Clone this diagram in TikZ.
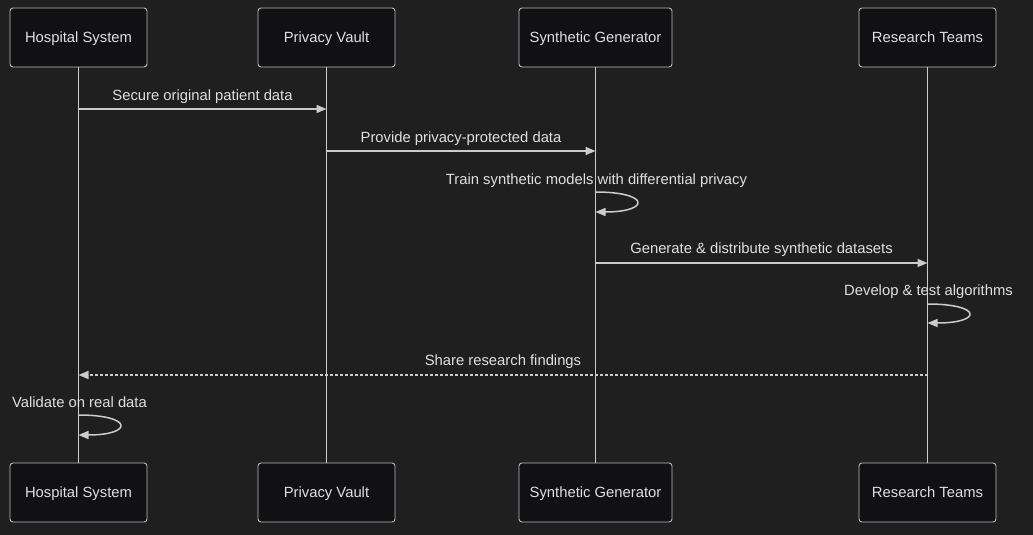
\documentclass[tikz,border=0pt]{standalone}
\usepackage{fontspec}
\setmainfont{Liberation Sans}
\usetikzlibrary{arrows.meta}
\definecolor{bg}{HTML}{1F1F1F}
\definecolor{boxfill}{HTML}{111113}
\definecolor{boxline}{HTML}{BBBBBB}
\definecolor{lineclr}{HTML}{CCCCCC}
\definecolor{txt}{HTML}{E0E0E0}
\begin{document}
\begin{tikzpicture}[x=1pt,y=-1pt,
  actor/.style={draw=boxline, line width=0.9pt, fill=boxfill, rounded corners=3pt,
    minimum height=59pt, inner sep=0pt, text=txt, font=\fontsize{14.8}{17}\selectfont,
    text height=11pt, text depth=1pt},
  life/.style={draw=lineclr, line width=1.5pt},
  msg/.style={draw=lineclr, line width=1.5pt, -{Triangle[length=10pt,width=8pt]}},
  reply/.style={msg, dash pattern=on 3pt off 2pt},
  lbl/.style={text=txt, font=\fontsize{14.8}{17}\selectfont, inner sep=0pt,
    text height=10.5pt, text depth=3pt}]
\fill[bg] (0,0) rectangle (1033,535);
\useasboundingbox (0,0) rectangle (1033,535);

% actors top
\node[actor, minimum width=137pt] (hsT) at (78.5,37.5) {Hospital System};
\node[actor, minimum width=137pt] (pvT) at (326.5,37.5) {Privacy Vault};
\node[actor, minimum width=153pt] (sgT) at (595.5,37.5) {Synthetic Generator};
\node[actor, minimum width=137pt] (rtT) at (927.5,37.5) {Research Teams};
% actors bottom
\node[actor, minimum width=137pt] (hsB) at (78.5,492.5) {Hospital System};
\node[actor, minimum width=137pt] (pvB) at (326.5,492.5) {Privacy Vault};
\node[actor, minimum width=153pt] (sgB) at (595.5,492.5) {Synthetic Generator};
\node[actor, minimum width=137pt] (rtB) at (927.5,492.5) {Research Teams};

% lifelines
\draw[life] (hsT.south) -- (hsB.north);
\draw[life] (pvT.south) -- (pvB.north);
\draw[life] (sgT.south) -- (sgB.north);
\draw[life] (rtT.south) -- (rtB.north);

% messages
\draw[msg] (hsT |- 0,109) -- node[lbl, midway, yshift=12pt] {Secure original patient data} (pvT |- 0,109);
\draw[msg] (pvT |- 0,151) -- node[lbl, midway, yshift=12pt] {Provide privacy-protected data} (sgT |- 0,151);

\node[lbl] (l3) at ([xshift=1pt]sgT |- 0,181) {Train synthetic models with differential privacy};
\draw[msg] (sgT |- 0,192) .. controls ([xshift=55pt]sgT |- 0,192) and ([xshift=55pt]sgT |- 0,212) .. (sgT |- 0,212);

\draw[msg] (sgT |- 0,263) -- node[lbl, midway, yshift=13pt] {Generate \& distribute synthetic datasets} (rtT |- 0,263);

\node[lbl] (l5) at ([xshift=1pt]rtT |- 0,292) {Develop \& test algorithms};
\draw[msg] (rtT |- 0,304) .. controls ([xshift=55pt]rtT |- 0,304) and ([xshift=55pt]rtT |- 0,323) .. (rtT |- 0,323);

\draw[reply] (rtT |- 0,375) -- node[lbl, midway, yshift=13pt] {Share research findings} (hsT |- 0,375);

\node[lbl] (l7) at ([xshift=1pt]hsT |- 0,404) {Validate on real data};
\draw[msg] (hsT |- 0,415) .. controls ([xshift=55pt]hsT |- 0,415) and ([xshift=55pt]hsT |- 0,435) .. (hsT |- 0,435);
\end{tikzpicture}
\end{document}
